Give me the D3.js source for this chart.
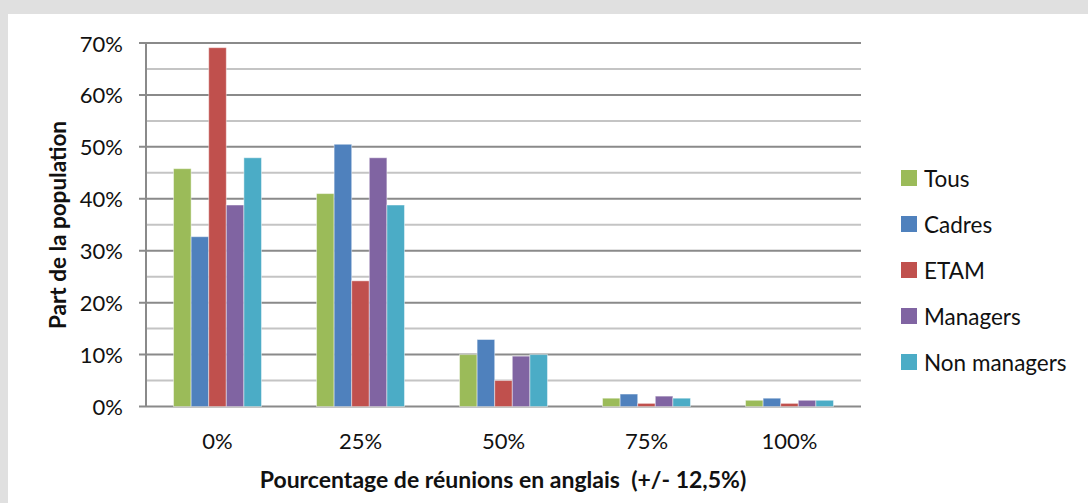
<!DOCTYPE html>
<html>
<head>
<meta charset="utf-8">
<script src="https://cdn.jsdelivr.net/npm/d3@7"></script>
<style>
  body { margin: 0; background: #e0e0e0; }
  svg { display: block; font-family: Lato, "Open Sans", sans-serif; }
</style>
</head>
<body>
<svg id="chart" width="1088" height="503"></svg>
<script>
// categories on the x axis
var categories = ["0%", "25%", "50%", "75%", "100%"];
// series names and colours
var seriesNames = ["Tous", "Cadres", "ETAM", "Managers", "Non managers"];
var seriesColors = ["#9BBB59", "#4F81BD", "#C0504D", "#8064A2", "#4BACC6"];
// values per series (share of population), one per category
var tous        = [0.458, 0.410, 0.100, 0.016, 0.012];
var cadres      = [0.327, 0.505, 0.129, 0.024, 0.016];
var etam        = [0.691, 0.242, 0.050, 0.006, 0.006];
var managers    = [0.388, 0.479, 0.097, 0.020, 0.012];
var nonManagers = [0.479, 0.388, 0.100, 0.016, 0.012];
var seriesValues = [tous, cadres, etam, managers, nonManagers];
// y axis ticks
var yTicks = [0, 0.1, 0.2, 0.3, 0.4, 0.5, 0.6, 0.7];
var yMinor = [0.05, 0.15, 0.25, 0.35, 0.45, 0.55, 0.65];

var svg = d3.select("#chart");

// white panel
svg.append("rect")
    .attr("x", 8).attr("y", 14)
    .attr("width", 1080).attr("height", 489)
    .attr("fill", "white");

var plotL = 146, plotR = 861, plotT = 43, plotB = 406.5;

var x = d3.scaleBand()
    .domain(categories)
    .range([plotL, plotR])
    .paddingInner(0.385)
    .paddingOuter(0.1925);

var xInner = d3.scaleBand()
    .domain(seriesNames)
    .range([0, x.bandwidth()]);

var y = d3.scaleLinear()
    .domain([0, 0.7])
    .range([plotB, plotT]);

// minor gridlines
svg.append("g")
    .selectAll("line")
    .data(yMinor)
    .enter()
    .append("line")
    .attr("x1", plotL).attr("x2", plotR)
    .attr("y1", d => y(d)).attr("y2", d => y(d))
    .style("stroke", "#c4c4c4")
    .style("stroke-width", 2);

// major gridlines + tick marks
svg.append("g")
    .selectAll("line")
    .data(yTicks)
    .enter()
    .append("line")
    .attr("x1", plotL - 7).attr("x2", plotR)
    .attr("y1", d => y(d)).attr("y2", d => y(d))
    .style("stroke", "#8a8a8a")
    .style("stroke-width", 2);

// y axis line
svg.append("line")
    .attr("x1", plotL).attr("x2", plotL)
    .attr("y1", plotT).attr("y2", plotB)
    .style("stroke", "#8a8a8a")
    .style("stroke-width", 2);

// bars
var rows = [];
categories.forEach(function(c, i) {
    seriesNames.forEach(function(s, j) {
        rows.push({cat: c, name: s, value: seriesValues[j][i], color: seriesColors[j]});
    });
});

svg.append("g")
    .selectAll("rect")
    .data(rows)
    .enter()
    .append("rect")
    .attr("x", d => x(d.cat) + xInner(d.name))
    .attr("y", d => y(d.value))
    .attr("width", xInner.bandwidth())
    .attr("height", d => plotB - y(d.value))
    .attr("fill", d => d.color)
    .style("stroke", "rgba(255,255,255,0.45)")
    .style("stroke-width", 1);

// y tick labels
svg.append("g")
    .selectAll("text")
    .data(yTicks)
    .enter()
    .append("text")
    .attr("x", 123)
    .attr("y", d => y(d))
    .attr("text-anchor", "end")
    .attr("dominant-baseline", "central")
    .style("font-size", "22px")
    .style("fill", "#111")
    .text(d => Math.round(d * 100) + "%");

// x tick labels
svg.append("g")
    .selectAll("text")
    .data(categories)
    .enter()
    .append("text")
    .attr("x", d => x(d) + x.bandwidth() / 2)
    .attr("y", 440)
    .attr("text-anchor", "middle")
    .attr("dominant-baseline", "central")
    .style("font-size", "22px")
    .style("fill", "#111")
    .text(d => d);

// axis titles
svg.append("text")
    .attr("x", 503)
    .attr("y", 479)
    .attr("text-anchor", "middle")
    .attr("dominant-baseline", "central")
    .style("font-size", "23px")
    .style("font-weight", "bold")
    .style("white-space", "pre")
    .style("fill", "#111")
    .text("Pourcentage de réunions en anglais  (+/- 12,5%)");

svg.append("text")
    .attr("transform", "translate(57,225) rotate(-90)")
    .attr("text-anchor", "middle")
    .attr("dominant-baseline", "central")
    .style("font-size", "22.5px")
    .style("font-weight", "bold")
    .style("fill", "#111")
    .text("Part de la population");

// legend
var size = 16;
var xLeg = 901, yLeg = 170, stepLeg = 46;
svg.selectAll("leg_rect")
    .data(seriesNames)
    .enter()
    .append("rect")
    .attr("x", xLeg)
    .attr("y", (d, i) => yLeg + i * stepLeg)
    .attr("width", size)
    .attr("height", size)
    .style("fill", (d, i) => seriesColors[i]);

svg.selectAll("leg_text")
    .data(seriesNames)
    .enter()
    .append("text")
    .attr("x", xLeg + 23)
    .attr("y", (d, i) => yLeg + i * stepLeg + size / 2)
    .attr("dominant-baseline", "central")
    .style("font-size", "22.5px")
    .style("fill", "#111")
    .text(d => d);
</script>
</body>
</html>
